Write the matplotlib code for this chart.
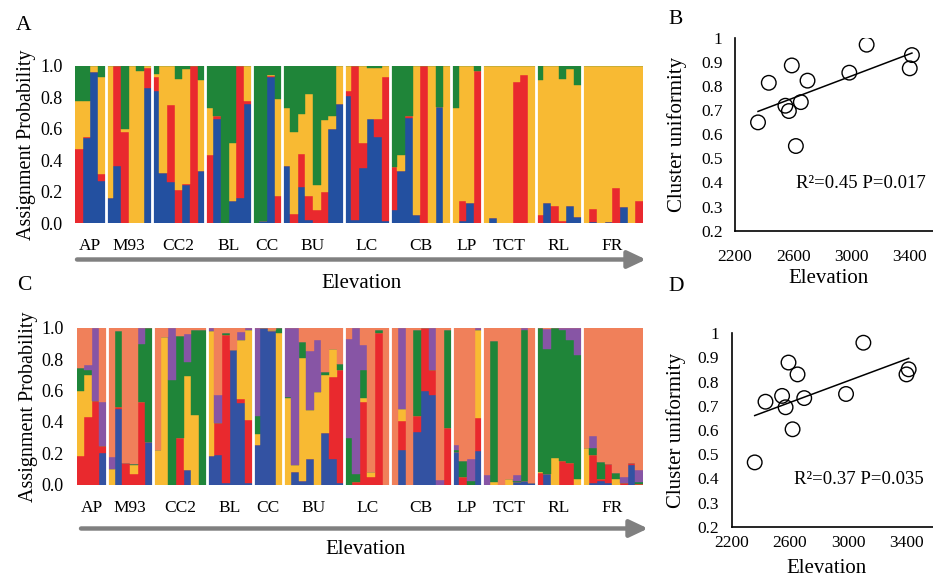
import matplotlib.pyplot as plt
import numpy as np
from matplotlib.patches import FancyArrowPatch

plt.rcParams['font.family'] = ['Liberation Serif', 'DejaVu Serif']

# populations ordered by elevation, number of individuals in each
pops = ['AP', 'M93', 'CC2', 'BL', 'CC', 'BU', 'LC', 'CB', 'LP', 'TCT', 'RL', 'FR']
n_ind = [4, 6, 7, 6, 4, 8, 6, 8, 4, 7, 6, 8]

# ---- panel A: K=4 assignment probabilities (one value per individual) ----
a_blue = [0, .54, .96, .27,
          .16, .36, 0, 0, 0, .86,
          .84, .32, .26, 0, .24, 0, .33,
          0, .66, 0, .14, .16, .76,
          0, .01, .93, 0,
          .36, 0, .23, .02, 0, 0, .60, .76,
          .81, .02, .35, .66, .55, .01,
          .085, .33, .67, .05, 0, 0, .74, 0,
          0, .01, .13, 0,
          0, .03, 0, 0, 0, 0, 0,
          0, .13, 0, 0, .11, .04,
          0, .005, 0, .006, 0, .10, 0, 0]
a_red = [.47, .01, 0, .04,
         0, .64, .58, 0, 0, .13,
         .09, 0, .49, .21, .01, 1.0, 0,
         .43, .02, 0, 0, .84, .02,
         0, 0, .005, .17,
         0, .06, .21, .15, .08, .195, 0, 0,
         .03, .98, .16, 0, .11, .92,
         .27, 0, .01, 0, 1.0, 0, 0, 0,
         0, .13, 0, .97,
         0, 0, 0, 0, .90, .94, 0,
         .05, 0, .11, .01, 0, 0,
         0, .085, 0, 0, .22, 0, 0, .14]
a_yellow = [.31, .23, .04, .62,
            .84, 0, .02, 1.0, .97, .01,
            .02, .68, .25, .71, .73, 0, .58,
            .30, 0, 0, .37, 0, .22,
            0, 0, .005, .62,
            .375, .52, .255, .65, .16, .46, .08, .24,
            .16, 0, .49, .33, .33, .07,
            0, .10, 0, .95, 0, 1.0, 0, 1.0,
            .73, .86, .87, 0,
            1.0, .97, 1.0, 1.0, .10, .06, 1.0,
            .86, .87, .89, .91, .87, .84,
            1.0, .91, 1.0, .994, .78, .90, 1.0, .86]
a_green = [.22, .22, 0, .07,
           0, 0, .40, 0, .03, 0,
           .05, 0, 0, .08, .02, 0, .09,
           .27, .32, 1.0, .49, 0, 0,
           1.0, .99, .06, .21,
           .265, .42, .305, .18, .76, .345, .32, 0,
           0, 0, 0, .01, .01, 0,
           .645, .57, .32, 0, 0, 0, .26, 0,
           .27, 0, 0, .03,
           0, 0, 0, 0, 0, 0, 0,
           .09, 0, 0, .08, .02, .12,
           0, 0, 0, 0, 0, 0, 0, 0]

# ---- panel C: K=6 assignment probabilities ----
c_blue = [0, 0, 0, .20,
          0, .484, 0, 0, 0, .27,
          0, 0, 0, 0, .09, 0, 0,
          .18, .19, .01, .86, .52, .01,
          .25, 1.0, .98, 0,
          0, .08, .02, .166, 0, .33, .166, .01,
          0, 0, 0, 0, 0, 0,
          0, .222, 0, .335, .595, .574, 0, 0,
          .21, 0, 0, .213,
          0, 0, 0, 0, .015, .02, .01,
          0, .068, 0, 0, 0, 0,
          0, .01, .025, .01, 0, 0, .126, 0]
c_red = [.18, .43, .535, .045,
         0, .01, .14, .064, .53, 0,
         0, 0, 0, .30, 0, 0, 0,
         0, .20, .945, 0, .024, .405,
         0, 0, 0, 0,
         0, 0, 0, 0, 0, 0, .52, .72,
         0, .015, .527, .05, .965, 0,
         0, .183, 0, .106, .405, .16, 0, .36,
         0, .047, 0, .21,
         0, 0, 0, 0, 0, 0, 0,
         .072, 0, 0, .15, .136, 0,
         0, .18, .01, .12, 0, .01, .01, .005]
c_yellow = [.42, .27, 0, 0,
            .10, 0, 0, .063, 0, 0,
            .22, .94, 0, 0, .605, .446, 0,
            .80, 0, 0, 0, .38, .575,
            .07, 0, .01, .966,
            .55, .045, .79, .31, .594, .37, .18, 0,
            0, 0, .025, .03, 0, 0,
            0, .079, 0, 0, 0, 0, 0, 0,
            0, 0, 0, .56,
            0, .015, 0, .032, 0, 0, 0,
            .008, 0, .17, 0, 0, .036,
            .235, 0, 0, 0, .036, 0, 0, 0]
c_green = [.145, .03, 0, 0,
           0, .486, 0, .007, .37, .73,
           0, 0, .665, .65, .085, .54, .99,
           0, 0, .01, 0, 0, 0,
           .12, 0, 0, .034,
           .01, 0, .10, 0, 0, .017, 0, .04,
           .30, .05, .177, 0, .025, 0,
           0, 0, 0, .55, 0, 0, 0, .625,
           .01, .106, .025, 0,
           0, .905, 0, 0, .01, .965, 0,
           .92, .80, .83, .835, .79, .795,
           0, .042, .11, 0, .04, 0, 0, .01]
c_purple = [0, .036, .465, .285,
            .076, 0, 0, 0, .10, 0,
            0, 0, .335, 0, .18, 0, 0,
            .02, .185, 0, 0, .05, .01,
            .56, 0, 0, 0,
            .44, .875, 0, .375, .33, 0, 0, 0,
            .63, .935, .16, 0, 0, 0,
            0, .516, 0, 0, 0, .267, .03, 0,
            .03, 0, .135, .015,
            .058, 0, 0, 0, .033, .015, 0,
            0, .124, 0, .015, .075, .17,
            0, .08, 0, 0, 0, .04, 0, .075]
c_salmon = [.255, .234, 0, .47,
            .824, .02, .86, .866, 0, 0,
            .78, .06, 0, .05, .04, .014, .01,
            0, .425, .035, .14, .026, 0,
            0, 0, .01, 0,
            0, 0, .09, .149, .076, .283, .134, .23,
            .07, 0, .11, .92, .01, 1.0,
            1.0, 0, 1.0, .01, 0, 0, .97, .015,
            .75, .847, .84, 0,
            .942, .08, 1.0, .968, .942, 0, .99,
            0, .008, 0, 0, 0, 0,
            .765, .688, .855, .87, .924, .95, .864, .91]

# ---- panels B and D: cluster uniformity vs elevation ----
elevation = [2358, 2432, 2546, 2570, 2590, 2618, 2652, 2698, 2985, 3104, 3400, 3415]
unif_k4 = [0.649, 0.813, 0.718, 0.696, 0.885, 0.551, 0.733, 0.822, 0.855, 0.971, 0.873, 0.928]
unif_k6 = [0.466, 0.717, 0.741, 0.694, 0.879, 0.603, 0.830, 0.732, 0.749, 0.961, 0.830, 0.851]

W, H = 933, 578


def px_axes(left, top, right, bottom):
    return fig.add_axes([left / W, 1 - bottom / H, (right - left) / W, (bottom - top) / H])


def structure_panel(ax, clusters, colors):
    comps = np.array(clusters, dtype=float)
    comps = comps / comps.sum(axis=0)
    x = np.arange(comps.shape[1])
    bottom = np.zeros(len(x))
    for vals, c in zip(comps, colors):
        ax.bar(x, vals, bottom=bottom, width=1.0, color=c, edgecolor=c, linewidth=0.3)
        bottom += vals
    edges = np.cumsum(n_ind)
    for e in edges[:-1]:
        ax.axvline(e - 0.5, color='white', lw=2.0)
    centers = edges - np.array(n_ind) / 2 - 0.5
    ax.set_xticks(centers)
    ax.set_xticklabels(pops, fontsize=12.5)
    ax.set_xlim(-0.5, len(x) - 0.5)
    ax.set_ylim(0, 1)
    yt = np.arange(0, 1.01, 0.2)
    ax.set_yticks(yt)
    ax.set_yticklabels(['%.1f' % v for v in yt], fontsize=13)
    ax.tick_params(axis='y', length=0, pad=9)
    ax.tick_params(axis='x', length=0, pad=11)
    for s in ax.spines.values():
        s.set_visible(False)
    ax.set_ylabel('Assignment Probability', fontsize=14.5, va='center')
    ax.yaxis.set_label_coords(-0.085, 0.5)


def scatter_panel(ax, y, text, xpad):
    ax.scatter(elevation, y, s=110, facecolors='none', edgecolors='black', linewidths=1.0, zorder=3)
    slope, inter = np.polyfit(elevation, y, 1)
    xl = np.array([min(elevation), max(elevation)])
    ax.plot(xl, slope * xl + inter, color='black', lw=1.1)
    ax.set_ylim(0.2, 1.0)
    yt = [0.2, 0.3, 0.4, 0.5, 0.6, 0.7, 0.8, 0.9, 1.0]
    ax.set_yticks(yt)
    ax.set_yticklabels(['%.1f' % v if v < 1 else '1' for v in yt], fontsize=12.5)
    ax.set_xticks([2200, 2600, 3000, 3400])
    ax.set_xticklabels(['2200', '2600', '3000', '3400'], fontsize=12.5)
    ax.tick_params(length=0)
    ax.tick_params(axis='y', pad=9)
    ax.tick_params(axis='x', pad=xpad)
    for s in ['top', 'right']:
        ax.spines[s].set_visible(False)
    for s in ['left', 'bottom']:
        ax.spines[s].set_linewidth(1.2)
    ax.set_ylabel('Cluster uniformity', fontsize=15, va='center')
    ax.set_xlabel('Elevation', fontsize=15, va='center')
    ax.text(0.31, 0.245, text, transform=ax.transAxes, fontsize=13.5, va='center')


fig = plt.figure(figsize=(W / 100, H / 100), dpi=100)

cols4 = ['#2350a0', '#e9292e', '#f8ba33', '#1f8539']
cols6 = ['#3352a2', '#e9292e', '#f8ba33', '#1f8539', '#8755a5', '#f0805a']

axA = px_axes(75, 66, 643, 223)
structure_panel(axA, [a_blue, a_red, a_yellow, a_green], cols4)
axC = px_axes(76.5, 328, 643, 484.5)
structure_panel(axC, [c_blue, c_red, c_yellow, c_green, c_purple, c_salmon], cols6)

# elevation arrows under the bar panels
for (x0, x1, y, ty, tx) in [(77, 646, 259.5, 283, 361), (81, 648, 528.5, 550, 365)]:
    arr = FancyArrowPatch((x0 / W, 1 - y / H), (x1 / W, 1 - y / H), transform=fig.transFigure,
                          arrowstyle='-|>,head_length=0.55,head_width=0.26', mutation_scale=20,
                          color='#808080', lw=3.2, shrinkA=0, shrinkB=0)
    fig.add_artist(arr)
    fig.text(tx / W, 1 - ty / H, 'Elevation', fontsize=15, ha='center', va='center')

axB = px_axes(735, 37.7, 933, 230.7)
axB.set_xlim(2215, 2215 + 198 / 0.14725)
scatter_panel(axB, unif_k4, 'R²=0.45 P=0.017', 13)
axB.yaxis.set_label_coords(-0.295, 0.5)
axB.xaxis.set_label_coords(0.47, -0.25)

axD = px_axes(731.7, 333.3, 933, 526.7)
axD.set_xlim(2215, 2215 + 201.3 / 0.14725)
scatter_panel(axD, unif_k6, 'R²=0.37 P=0.035', 6)
axD.yaxis.set_label_coords(-0.275, 0.5)
axD.xaxis.set_label_coords(0.47, -0.214)

for lab, x, y in [('A', 24, 25), ('B', 676, 19), ('C', 24, 285), ('D', 676, 287)]:
    fig.text(x / W, 1 - y / H, lab, fontsize=15.5, ha='center', va='center')

plt.savefig('out.png', dpi=100)
plt.close()
